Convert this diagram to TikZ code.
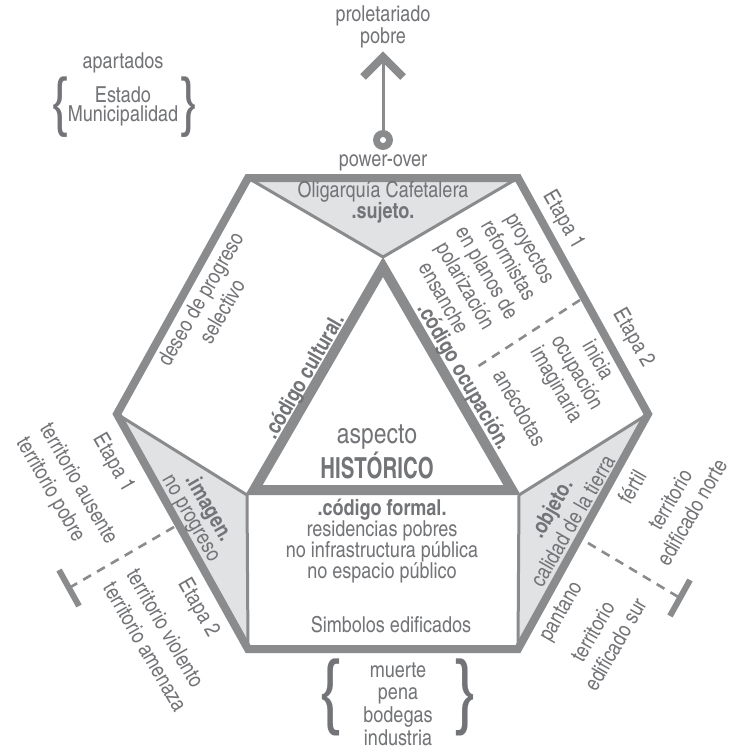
\documentclass[tikz,border=0pt]{standalone}
\usepackage{fontspec}
\setmainfont{texgyreheroscn}[Extension=.otf,UprightFont=*-regular,BoldFont=*-bold,ItalicFont=*-italic,BoldItalicFont=*-bolditalic]
\definecolor{lg}{HTML}{8A8B8D}
\definecolor{fg}{HTML}{E1E2E3}
\definecolor{tg}{HTML}{737477}
\begin{document}
\begin{tikzpicture}[x=1pt,y=-1pt,
  tx/.style={text=tg,inner sep=0pt,align=center,font=\fontsize{22}{24}\selectfont},
  lead/.style={font=\fontsize{22}{#1}\selectfont},
  thinl/.style={draw=lg,line width=3pt},
  hexl/.style={draw=lg,line width=8pt,line join=miter},
  tril/.style={draw=lg,line width=10pt,line join=miter},
  dashl/.style={draw=lg,line width=2.6pt,dash pattern=on 9pt off 7pt},
  barl/.style={draw=lg,line width=6pt},
  brace/.style={text=tg,inner sep=0pt,font=\fontsize{#1}{#1}\selectfont}]
\useasboundingbox (0,0) rectangle (731,750);
% hexagon vertices
\coordinate (A) at (248,178);
\coordinate (B) at (518,178);
\coordinate (C) at (648,414);
\coordinate (D) at (518,649);
\coordinate (E) at (248,649);
\coordinate (F) at (117,414);
% inner triangle
\coordinate (T1) at (383,267);
\coordinate (T2) at (254,490);
\coordinate (T3) at (512,490);
\coordinate (P1) at (383,257);
\coordinate (P2) at (247,495);
\coordinate (P3) at (519,495);
% fills
\fill[fg] (A) -- (B) -- (P1) -- cycle;
\fill[fg] (F) -- (P2) -- (E) -- cycle;
\fill[fg] (C) -- (P3) -- (D) -- cycle;
% thin lines
\draw[thinl] (A) -- (P1) -- (B);
\draw[thinl] (F) -- (P2) -- (E);
\draw[thinl] (C) -- (P3) -- (D);
% triangle and hexagon
\draw[tril] (T1) -- (T2) -- (T3) -- cycle;
\draw[hexl] (A) -- (B) -- (C) -- (D) -- (E) -- (F) -- cycle;
% dashed dividers
\coordinate (du1) at (580,300);
\coordinate (du2) at (477,367);
\draw[dashl] (du1) -- (du2);
\coordinate (dl1) at (174,527);
\coordinate (dl2) at (69,588);
\coordinate (bl1) at (59,570);
\coordinate (bl2) at (79,606);
\draw[dashl] (dl1) -- (dl2);
\draw[barl] (bl1) -- (bl2);
\coordinate (dr1) at (588,543);
\coordinate (dr2) at (680,598);
\coordinate (br1) at (690,580);
\coordinate (br2) at (670,616);
\draw[dashl] (dr1) -- (dr2);
\draw[barl] (br1) -- (br2);
% arrow power-over
\coordinate (circ) at (383,140);
\coordinate (tip) at (383,57);
\coordinate (chl) at (363,77);
\coordinate (chr) at (403,77);
\draw[draw=lg,line width=3pt] (circ) -- (tip);
\fill[lg] (circ) circle (10);
\fill[white] (circ) circle (3);
\draw[draw=lg,line width=8pt,line join=miter] (chl) -- (tip) -- (chr);
% texts
\node[tx,lead=19] (prol) at (383,27) {proletariado\\pobre};
\node[tx] (power) at (383,163) {power-over};
\node[tx] (apart) at (123,63) {apartados};
\node[tx,lead=19] (estado) at (123,106) {Estado\\Municipalidad};
\node[brace=66] (lb1) at (61,107) {\{};
\node[brace=66] (rb1) at (189,107) {\}};
\node[tx,lead=21] (sujeto) at (383,202) {Oligarquía Cafetalera\\\textbf{.sujeto.}};
\node[tx,lead=25,rotate=60] (deseo) at (211,305) {deseo de progreso\\selectivo};
\node[tx,rotate=60] (cultural) at (305,377) {\textbf{.código cultural.}};
\node[tx,lead=25,rotate=-60] (proy) at (487,273) {proyectos\\reformistas\\en planos de\\polarización\\ensanche};
\node[tx,rotate=-60] (ocup) at (463,377) {\textbf{.código ocupación.}};
\node[tx,rotate=-60] (et1r) at (563,220) {Etapa 1};
\node[tx,rotate=-60] (et2r) at (633,338) {Etapa 2};
\node[tx,lead=24,rotate=-60] (inicia) at (576,373) {inicia\\ocupación\\imaginaria};
\node[tx,rotate=-60] (anec) at (520,408) {anécdotas};
\node[tx,font=\fontsize{28}{28}\selectfont] (aspecto) at (377,437) {aspecto};
\node[tx,font=\fontsize{29}{29}\selectfont\bfseries,xscale=0.86] (hist) at (377,466) {HISTÓRICO};
\node[tx,lead=20.7] (formal) at (382,541) {\textbf{.código formal.}\\residencias pobres\\no infrastructura pública\\no espacio público};
\node[tx] (simb) at (391,625) {Simbolos edificados};
\node[tx,lead=22.7] (bottom) at (398,704) {muerte\\pena\\bodegas\\industria};
\node[brace=84] (lb2) at (331,697) {\{};
\node[brace=84] (rb2) at (465,697) {\}};
\node[tx,lead=20,rotate=-60] (imagen) at (199.5,513.5) {\textbf{.imagen.}\\no progreso};
\node[tx,rotate=-60] (et1l) at (113,463) {Etapa 1};
\node[tx,lead=27,align=left,rotate=-60] (terr1) at (66,491) {territorio ausente\\territorio pobre};
\node[tx,rotate=-60] (et2l) at (198,608) {Etapa 2};
\node[tx,lead=27,align=left,rotate=-60] (terr2) at (157,640) {territorio violento\\territorio amenaza};
\node[tx,lead=25,rotate=60] (objeto) at (561.5,514.5) {\textbf{.objeto.}\\calidad de la tierra};
\node[tx,rotate=60] (fertil) at (632,487) {fértil};
\node[tx,lead=25,rotate=60] (norte) at (681,506) {territorio\\edificado norte};
\node[tx,rotate=60] (pantano) at (562,612) {pantano};
\node[tx,lead=26,rotate=60] (sur) at (604,638) {territorio\\edificado sur};
\end{tikzpicture}
\end{document}
